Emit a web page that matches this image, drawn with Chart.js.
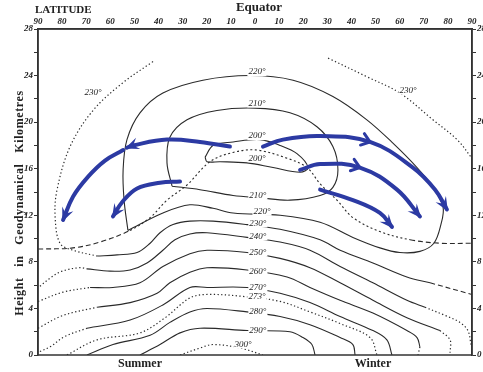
<!DOCTYPE html>
<html><head><meta charset="utf-8">
<script src="https://cdn.jsdelivr.net/npm/chart.js@4/dist/chart.umd.min.js"></script>
<style>html,body{margin:0;padding:0;background:#fff}#wrap{width:483px;height:372px}</style>
</head><body><div id="wrap"><canvas id="c" width="483" height="372"></canvas></div>
<script>
// ---- axis ticks ----
const latTickValues = [-90,-80,-70,-60,-50,-40,-30,-20,-10,0,10,20,30,40,50,60,70,80,90];
const latTickLabels = ['90','80','70','60','50','40','30','20','10','0','10','20','30','40','50','60','70','80','90'];
const heightLabelValues = [0,4,8,12,16,20,24,28];

// ---- contours [latitude (summer negative), height km] ----
const tropopause = [[-90,9.1],[-75.5,9.2],[-64.3,9.7],[-51.8,10.7],[-43.5,11.8],[-36.5,13.3],[-28.2,14.6],[-18.7,16.6],[-9.1,17.4],[0.8,17.6],[13.3,16.9],[21.6,16.1],[27.0,14.7],[34.0,13.3],[40.6,11.8],[51.8,10.6],[64.3,9.9],[76.7,9.6],[90,9.6]];
const c230LeftDotted = [[-42.3,25.2],[-54.7,23.4],[-67.2,21.0],[-76.7,17.9],[-82.1,14.2],[-82.9,11.9],[-80.9,9.6],[-75.5,9.0],[-65.5,8.5]];
const c230Solid = [[-65.5,8.5],[-57.2,8.6],[-48.9,8.8],[-43.5,9.6],[-39.4,10.5],[-34.0,11.2],[-27.0,11.5],[-17.4,11.5],[-3.3,11.2],[10.4,10.8],[27.0,9.9],[35.3,9.0],[48.9,7.9],[63.0,6.7],[72.6,6.2]];
const c230RightDashed = [[72.6,6.2],[90,5.2]];
const c230TopRightDotted = [[30.3,25.5],[46.4,23.9],[60.1,22.5],[73.8,20.2],[83.8,18.5],[90,16.9]];
const c220Loop = [[-52.7,10.7],[-54.3,13.3],[-54.7,15.9],[-53.1,18.5],[-47.7,20.8],[-38.2,22.5],[-21.6,23.6],[-2.0,24.0],[15.8,23.6],[32.3,22.2],[46.4,20.2],[57.2,18.2],[67.2,16.1],[73.8,14.4],[78.0,12.7],[77.1,11.2],[74.2,9.6],[68.4,8.9],[60.1,8.8],[51.8,9.2],[40.6,10.1],[27.0,11.4],[10.4,12.0],[-9.1,12.2],[-17.4,12.6],[-27.0,12.9],[-38.2,12.2],[-52.7,10.7]];
const c210Loop = [[-34.4,14.5],[-36.5,16.5],[-35.3,18.7],[-28.2,20.2],[-15.8,21.0],[0,21.2],[14.5,20.8],[25.7,19.6],[32.3,17.9],[34.4,15.9],[32.3,14.4],[27.0,13.7],[14.5,13.3],[2.1,13.5],[-9.1,13.7],[-22.8,14.2],[-34.4,14.5]];
const c200Loop = [[-20.7,17.0],[-17.4,18.0],[-9.1,18.3],[2.1,18.5],[10.4,18.0],[17.4,17.3],[22.0,16.1],[18.7,15.7],[7.5,16.1],[-3.3,16.5],[-14.5,16.6],[-19.9,16.6],[-20.7,17.0]];
const c240LeftDotted = [[-89.2,5.9],[-85.0,6.6],[-80.0,7.2],[-72.6,7.5],[-69.7,7.4]];
const c240Solid = [[-69.7,7.4],[-60.1,7.2],[-51.8,7.3],[-44.8,7.9],[-38.2,9.0],[-33.2,9.9],[-27.0,10.4],[-19.9,10.5],[-3.3,10.1],[10.4,9.7],[22.8,9.0],[35.3,7.6],[48.9,6.2],[63.0,4.7],[70.5,4.1]];
const c240RightDotted = [[70.5,4.1],[78.8,3.4],[85.0,2.8],[88.3,2.1],[89.6,0.9]];
const c250LeftDotted = [[-90,4.6],[-79.6,5.4],[-68.4,5.8]];
const c250Solid = [[-68.4,5.8],[-58.9,5.8],[-47.7,6.2],[-38.2,7.6],[-27.0,8.7],[-19.9,9.0],[-3.3,8.8],[10.4,8.3],[22.8,7.5],[35.3,6.2],[48.9,4.7],[63.0,3.2],[76.7,2.1]];
const c250RightDotted = [[76.7,2.1],[80.9,1.3],[80.9,0.2]];
const c260LeftDotted = [[-90,2.3],[-79.6,3.4],[-65.5,4.1]];
const c260Solid = [[-65.5,4.1],[-51.8,4.5],[-40.6,5.3],[-35.3,6.2],[-27.0,7.1],[-19.9,7.5],[-3.3,7.3],[13.3,6.7],[22.8,5.8],[35.3,4.7],[48.9,3.6],[63.0,2.1],[67.2,1.5],[68.4,0.7]];
const c260RightDotted = [[68.4,0.7],[67.6,0]];
const c270LeftDotted = [[-89.2,0.3],[-85.0,0.7],[-78.8,1.6],[-69.7,2.3]];
const c270Solid = [[-69.7,2.3],[-51.8,3.0],[-38.2,4.3],[-27.0,5.8],[-19.9,5.8],[-3.3,5.8],[10.4,5.3],[22.8,4.5],[35.3,3.3],[48.9,2.1],[54.7,1.3],[56.8,0]];
const c273Dotted = [[-78.0,0],[-65.5,1.3],[-47.7,1.9],[-37.3,3.2],[-27.0,4.9],[-19.9,5.2],[-3.3,5.0],[10.4,4.6],[22.8,3.7],[35.3,2.7],[47.7,1.5],[50.6,0]];
const c280Solid = [[-69.7,0],[-58.9,0.9],[-43.5,1.7],[-35.3,2.8],[-27.0,3.7],[-19.9,4.0],[-3.3,3.7],[10.4,3.3],[22.8,2.6],[35.3,1.5],[40.6,0.9],[41.5,0]];
const c290Solid = [[-47.7,0],[-39.4,0.9],[-31.1,1.9],[-22.8,2.3],[-3.3,2.1],[14.5,2.0],[19.9,1.5],[23.6,0.9],[24.9,0]];
const c300Dotted = [[-31.1,0],[-22.8,0.6],[-17.4,0.9],[-6.2,0.6],[3.3,0]];

// ---- contour labels ----
const contourLabelText = ['220°','210°','200°','200°','210°','220°','230°','240°','250°','260°','270°','273°','280°','290°','300°','230°','230°'];
const contourLabelLat  = [0.8,0.8,0.8,0.8,1.2,2.9,1.2,1.2,1.2,1.2,1.2,0.8,1.2,1.2,-5,-67.2,63.5];
const contourLabelKm   = [24.3,21.6,18.8,16.9,13.7,12.3,11.3,10.2,8.8,7.2,5.8,5.0,3.7,2.1,0.9,22.5,22.7];

// ---- hand-drawn circulation arrows ----
const arrowLeftUpper = [[-10.4,17.9],[-22.8,18.3],[-36.5,18.5],[-50.6,18.0],[-53.1,17.8]];
const arrowLeftDown  = [[-54.7,17.6],[-62.2,16.7],[-69.3,15.3],[-75.5,13.6],[-79.6,11.6]];
const arrowLeftLower = [[-31.1,14.9],[-39.4,14.8],[-48.9,14.3],[-55.2,13.1],[-58.9,11.9]];
const arrowRightUpper = [[3.3,17.9],[11.6,18.5],[27.0,18.8],[47.7,18.3],[65.5,16.1],[74.7,14.2],[79.6,12.5]];
const arrowRightMiddle = [[18.7,15.9],[27.0,16.4],[43.5,16.1],[58.9,14.2],[68.4,11.9]];
const arrowRightLower = [[27.0,14.2],[40.6,13.3],[51.8,12.2],[56.8,11.0]];

const INK = '#2a2a2a', BLUE = '#2c3aa3';
const DOT = [1.3, 2.4], DASH = [5, 3];
const pts = a => a.map(p => ({x: p[0], y: p[1]}));
function line(a, dash, w) {
  return {data: pts(a), showLine: true, borderColor: INK, borderWidth: w || 1.1, borderDash: dash || [],
          pointRadius: 0, tension: 0.35, order: 1, fill: false};
}
function arrow(a, mid) {
  return {data: pts(a), showLine: true, borderColor: BLUE, borderWidth: 4, pointRadius: 0, tension: 0.4,
          order: 0, fill: false, isArrow: true, midArrow: mid, borderCapStyle: 'round'};
}
const tropoSet = line(tropopause, DASH, 1.1);
tropoSet.segment = {borderDash: c => Math.abs(c.p0.parsed.x) > 58 ? [5, 3] : [2, 2.5]};

const datasets = [
  arrow(arrowLeftUpper, -1), arrow(arrowLeftDown, -1), arrow(arrowLeftLower, -1),
  arrow(arrowRightUpper, 3), arrow(arrowRightMiddle, 2), arrow(arrowRightLower, -1),
  tropoSet,
  line(c230LeftDotted, DOT, 1.2), line(c230Solid), line(c230RightDashed, DASH), line(c230TopRightDotted, DOT, 1.2),
  line(c220Loop), line(c210Loop), line(c200Loop),
  line(c240LeftDotted, DOT, 1.2), line(c240Solid), line(c240RightDotted, DOT, 1.2),
  line(c250LeftDotted, DOT, 1.2), line(c250Solid), line(c250RightDotted, DOT, 1.2),
  line(c260LeftDotted, DOT, 1.2), line(c260Solid), line(c260RightDotted, DOT, 1.2),
  line(c270LeftDotted, DOT, 1.2), line(c270Solid),
  line(c273Dotted, DOT, 1.2), line(c280Solid), line(c290Solid), line(c300Dotted, DOT, 1.2)
];

function head(ctx, x, y, dx, dy, L, W) {
  const n = Math.hypot(dx, dy) || 1; dx /= n; dy /= n;
  const bx = x - dx * L, by = y - dy * L;
  ctx.beginPath();
  ctx.moveTo(x + dx * 2, y + dy * 2);
  ctx.lineTo(bx - dy * W, by + dx * W);
  ctx.lineTo(x - dx * L * 0.55, y - dy * L * 0.55);
  ctx.lineTo(bx + dy * W, by - dx * W);
  ctx.closePath(); ctx.fill();
}
let labelsDrawn = false;
function drawLabels(chart) {
  const {ctx, scales: {x, y}} = chart;
  ctx.save();
  ctx.font = 'italic 9px "Liberation Serif", serif';
  ctx.textAlign = 'center'; ctx.textBaseline = 'middle';
  contourLabelText.forEach((t, i) => {
    const px = x.getPixelForValue(contourLabelLat[i]), py = y.getPixelForValue(contourLabelKm[i]);
    const w = ctx.measureText(t).width;
    ctx.fillStyle = '#fff'; ctx.fillRect(px - w / 2 - 1, py - 4, w + 2, 8);
    ctx.fillStyle = '#222'; ctx.fillText(t, px, py);
  });
  ctx.restore();
}
const decor = {
  id: 'decor',
  beforeDatasetsDraw() { labelsDrawn = false; },
  beforeDatasetDraw(chart, args) {
    if (chart.data.datasets[args.index].isArrow && !labelsDrawn) { drawLabels(chart); labelsDrawn = true; }
  },
  afterDatasetsDraw(chart) {
    const {ctx, chartArea: a} = chart;
    if (!labelsDrawn) { drawLabels(chart); labelsDrawn = true; }
    ctx.save();
    ctx.fillStyle = BLUE; ctx.strokeStyle = BLUE; ctx.lineCap = 'round'; ctx.lineWidth = 3;
    chart.data.datasets.forEach((ds, i) => {
      if (!ds.isArrow) return;
      const p = chart.getDatasetMeta(i).data, n = p.length;
      const e = p[n - 1];
      let dx = e.x - e.cp1x, dy = e.y - e.cp1y;
      if (!isFinite(dx) || Math.hypot(dx, dy) < 1) { dx = e.x - p[n - 2].x; dy = e.y - p[n - 2].y; }
      head(ctx, e.x, e.y, dx, dy, 12, 6);
      if (ds.midArrow >= 0) {
        const q = p[ds.midArrow];
        let mx = q.cp2x - q.cp1x, my = q.cp2y - q.cp1y;
        const m = Math.hypot(mx, my) || 1; mx /= m; my /= m;
        ctx.beginPath();
        ctx.moveTo(q.x - mx * 8 - my * 6, q.y - my * 8 + mx * 6);
        ctx.lineTo(q.x, q.y);
        ctx.lineTo(q.x - mx * 8 + my * 6, q.y - my * 8 - mx * 6);
        ctx.stroke();
      }
    });
    ctx.restore();
    ctx.save();
    ctx.strokeStyle = '#333'; ctx.lineWidth = 1.5;
    ctx.strokeRect(a.left, a.top, a.right - a.left, a.bottom - a.top);
    ctx.restore();
  },
  afterDraw(chart) {
    const {ctx} = chart;
    ctx.save();
    ctx.fillStyle = '#222';
    ctx.textBaseline = 'middle';
    ctx.font = 'bold 11px "Liberation Serif", serif';
    ctx.textAlign = 'left';
    ctx.fillText('LATITUDE', 35, 10);
    ctx.font = 'bold 13px "Liberation Serif", serif';
    ctx.textAlign = 'center';
    ctx.fillText('Equator', 259, 8);
    ctx.font = 'bold 12px "Liberation Serif", serif';
    ctx.fillText('Summer', 140, 364);
    ctx.fillText('Winter', 373, 364);
    ctx.translate(20, 203);
    ctx.rotate(-Math.PI / 2);
    ctx.font = 'bold 12px "Liberation Serif", serif';
    ctx.letterSpacing = '0.6px';
    ctx.fillText('Height   in   Geodynamical   Kilometres', 0, 0);
    ctx.restore();
  }
};

const tickFont = {family: '"Liberation Serif", serif', size: 9, style: 'italic', weight: 'bold'};
new Chart(document.getElementById('c'), {
  type: 'scatter',
  data: {datasets},
  options: {
    responsive: false, animation: false, devicePixelRatio: 1, events: [],
    layout: {padding: {top: 0, left: 0, right: 0, bottom: 17}},
    plugins: {legend: {display: false}, tooltip: {enabled: false}},
    scales: {
      x: {type: 'linear', position: 'top', min: -90, max: 90,
          afterFit: s => { s.height = 29; },
          grid: {display: false, drawTicks: false, tickLength: 0}, border: {display: true, color: '#333', width: 1.5},
          ticks: {stepSize: 10, autoSkip: false, maxRotation: 0, padding: 2, color: '#222', font: tickFont,
                  callback: v => { const k = latTickValues.indexOf(v); return k >= 0 ? latTickLabels[k] : ''; }}},
      y: {type: 'linear', position: 'left', min: 0, max: 28,
          afterFit: s => { s.width = 38; },
          grid: {drawOnChartArea: false, drawTicks: true, tickLength: 4, color: '#333'},
          border: {display: true, color: '#333', width: 1.5},
          ticks: {stepSize: 2, autoSkip: false, padding: 1, color: '#222', font: tickFont,
                  callback: v => heightLabelValues.includes(v) ? String(v) : ''}},
      y2: {type: 'linear', position: 'right', min: 0, max: 28,
          afterFit: s => { s.width = 11; },
          grid: {drawOnChartArea: false, drawTicks: true, tickLength: 4, color: '#333'},
          border: {display: true, color: '#333', width: 1.5},
          ticks: {stepSize: 2, autoSkip: false, padding: 1, color: '#222', font: tickFont,
                  callback: v => heightLabelValues.includes(v) ? String(v) : ''}}
    }
  },
  plugins: [decor]
});
</script></body></html>
